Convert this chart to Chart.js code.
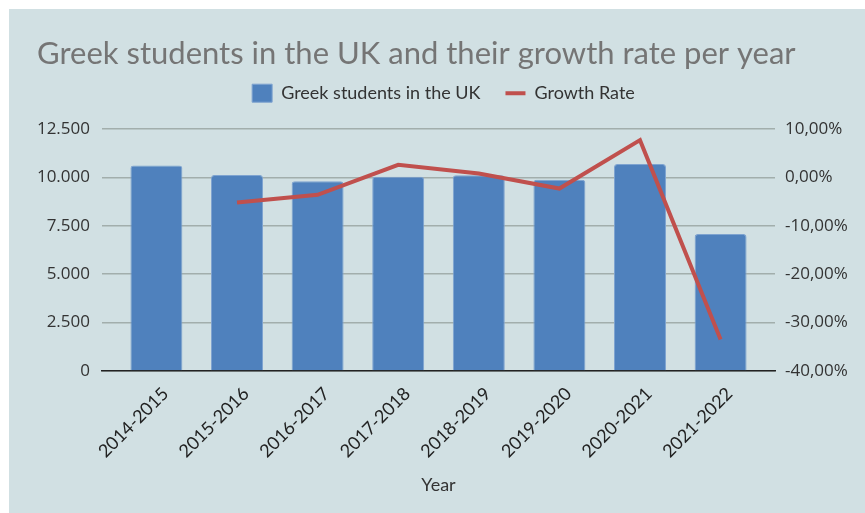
<!DOCTYPE html>
<html>
<head>
<meta charset="utf-8">
<script src="https://cdn.jsdelivr.net/npm/chart.js@4.4.1/dist/chart.umd.min.js"></script>
<style>
  html, body { margin: 0; padding: 0; background: #fff; }
  #wrap { position: absolute; left: 9px; top: 9px; width: 856px; height: 504px; background: #d1e0e3; }
</style>
</head>
<body>
<div id="wrap"><canvas id="chart"></canvas></div>
<script>
// values
const years = ["2014-2015", "2015-2016", "2016-2017", "2017-2018", "2018-2019", "2019-2020", "2020-2021", "2021-2022"];
const students = [10610, 10130, 9800, 10040, 10110, 9880, 10690, 7080];
const growth = [null, -5.2, -3.6, 2.6, 0.8, -2.3, 7.7, -33.5];
const leftTicks = [0, 2500, 5000, 7500, 10000, 12500];
const rightTicks = [-40, -30, -20, -10, 0, 10];

const tickColor = "#333";
const gridColor = "#a2aeac";

const fmtThousands = v => String(v).replace(/\B(?=(\d{3})+(?!\d))/g, ".");
const fmtPct = v => v.toFixed(2).replace(".", ",") + "%";

const ctx = document.getElementById("chart").getContext("2d");

new Chart(ctx, {
  type: "bar",
  data: {
    datasets: [
      {
        type: "bar",
        label: "Greek students in the UK",
        data: students.map((v, i) => ({ x: i, y: v })),
        backgroundColor: "#4f81bd",
        borderColor: "#7ea3d0",
        borderWidth: 1,
        borderRadius: 3,
        borderSkipped: "start",
        categoryPercentage: 1,
        barPercentage: 0.645,
        pointStyle: "rect",
        yAxisID: "y",
        order: 1
      },
      {
        type: "line",
        label: "Growth Rate",
        data: growth.map((v, i) => ({ x: i, y: v })),
        borderColor: "#c0504d",
        backgroundColor: "#c0504d",
        borderWidth: 4,
        pointRadius: 0,
        pointStyle: "line",
        tension: 0,
        yAxisID: "y1",
        order: 0
      }
    ]
  },
  options: {
    responsive: true,
    maintainAspectRatio: false,
    animation: false,
    layout: { padding: { left: 28, right: 15, top: 0, bottom: 0 } },
    plugins: {
      title: {
        display: true,
        text: "Greek students in the UK and their growth rate per year",
        align: "start",
        color: "#757575",
        font: { family: "Lato", size: 31, weight: "normal" },
        padding: { top: 26, bottom: -13 }
      },
      // empty spacer between the legend and the plot
      subtitle: {
        display: true,
        text: "",
        weight: 500,
        font: { size: 14 },
        padding: 0
      },
      legend: {
        display: true,
        labels: {
          usePointStyle: true,
          pointStyleWidth: 20,
          boxHeight: 18,
          padding: 25,
          color: "#333",
          font: { family: "Lato", size: 18 },
          sort: (a, b) => a.datasetIndex - b.datasetIndex
        }
      },
      tooltip: { enabled: false }
    },
    scales: {
      x: {
        type: "linear",
        min: -0.675,
        max: 7.675,
        offset: false,
        grid: { display: false, drawTicks: false },
        border: { display: true, color: "#222", width: 1.5 },
        afterBuildTicks: s => { s.ticks = years.map((_, i) => ({ value: i })); },
        afterFit: s => { s.height = 142; },
        ticks: {
          autoSkip: false,
          minRotation: 45,
          maxRotation: 45,
          padding: 12,
          labelOffset: 9,
          color: "#222",
          font: { family: "Lato", size: 18 },
          callback: v => years[v]
        },
        title: {
          display: true,
          text: "Year",
          color: "#333",
          font: { family: "Lato", size: 18 },
          padding: { top: 0, bottom: 17 }
        }
      },
      y: {
        position: "left",
        min: 0,
        max: 12500,
        grid: { color: gridColor, lineWidth: 1.5, drawTicks: false },
        border: { display: false },
        afterBuildTicks: s => { s.ticks = leftTicks.map(v => ({ value: v })); },
        afterFit: s => { s.width = 65; },
        ticks: {
          padding: 12,
          color: tickColor,
          font: { family: "Open Sans", size: 17 },
          callback: v => fmtThousands(v)
        }
      },
      y1: {
        position: "right",
        min: -40,
        max: 10,
        grid: { display: false, drawTicks: false },
        border: { display: false },
        afterBuildTicks: s => { s.ticks = rightTicks.map(v => ({ value: v })); },
        afterFit: s => { s.width = 75; },
        ticks: {
          padding: 10,
          color: tickColor,
          font: { family: "Open Sans", size: 17 },
          callback: v => fmtPct(v)
        }
      }
    }
  }
});
</script>
</body>
</html>
